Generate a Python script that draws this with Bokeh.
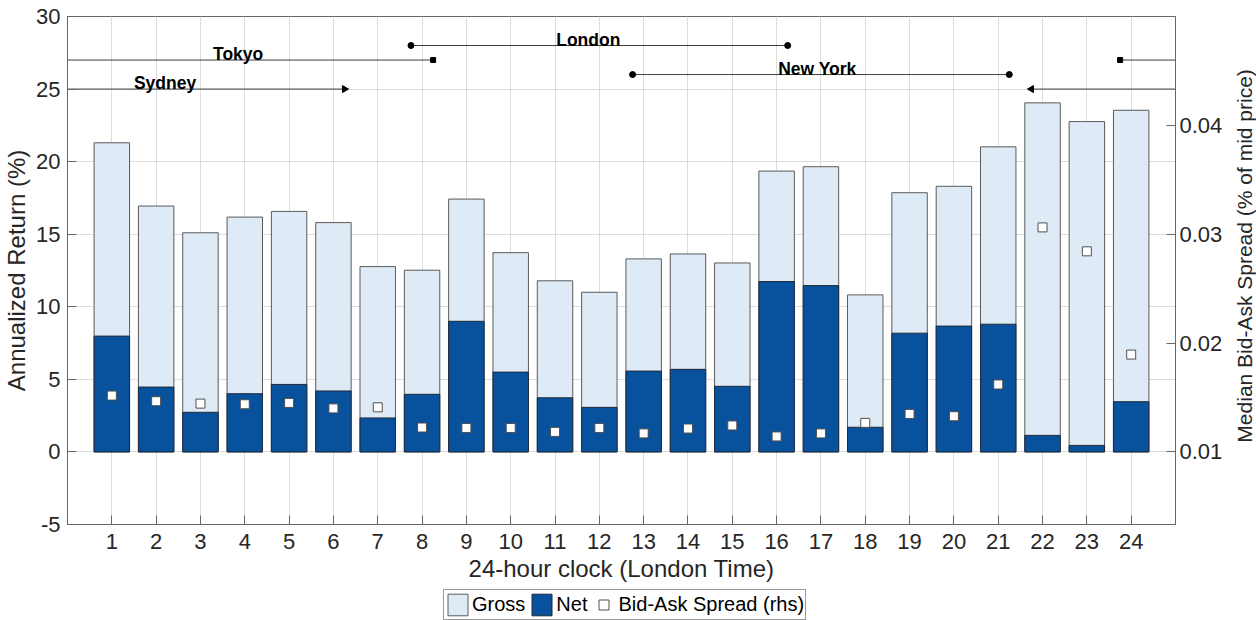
import numpy as np
from bokeh.plotting import figure
from bokeh.layouts import column, row
from bokeh.models import (Range1d, LinearAxis, FixedTicker, Legend, LegendItem,
                          ColumnDataSource)
from bokeh.core.properties import value
from bokeh.embed import file_html
from bokeh.resources import INLINE

# ---------------- data ----------------
hours = list(range(1, 25))
gross = [21.3, 16.94, 15.1, 16.18, 16.57, 15.8, 12.77, 12.52, 17.42, 13.73, 11.79, 11.0,
         13.3, 13.64, 13.02, 19.35, 19.65, 10.82, 17.86, 18.3, 21.02, 24.05, 22.76, 23.54]
net = [7.98, 4.47, 2.73, 4.01, 4.65, 4.2, 2.34, 3.97, 9.0, 5.5, 3.73, 3.07,
       5.57, 5.69, 4.52, 11.74, 11.46, 1.7, 8.18, 8.67, 8.8, 1.14, 0.45, 3.46]
spread = [0.01518, 0.01466, 0.01444, 0.01438, 0.0145, 0.0140, 0.0141, 0.01224, 0.0122, 0.0122,
          0.01184, 0.0122, 0.0117, 0.01215, 0.01243, 0.01142, 0.0117, 0.01267, 0.01349, 0.01328,
          0.0162, 0.03065, 0.02845, 0.01895]

session_names = ["Sydney", "Tokyo", "London", "New York"]
session_start = [21.75, 23.75, 7.75, 12.75]
session_end = [6.25, 8.25, 16.25, 21.25]
session_level = [25, 27, 28, 26]
session_label_x = [2.2, 3.85, 11.75, 16.92]
session_marker = ["triangle", "square", "circle", "circle"]

left_ticks = [-5, 0, 5, 10, 15, 20, 25, 30]
right_ticks = [0.01, 0.02, 0.03, 0.04]

x_title = "24-hour clock (London Time)"
y_title = "Annualized Return (%)"
y2_title = "Median Bid-Ask Spread (% of mid price)"

# ---------------- styling ----------------
FONT = "Liberation Sans"
TXT = "#262626"
AX = "#666666"
GRID = "#dcdcdc"
C_GROSS = "#deebf7"
C_NET = "#08519c"
E_GROSS = "#5a5a5a"
E_NET = "#1f2a3a"
E_SPR = "#505050"

X_MAX = 25
P_H = 588
P_W = 1225
B_TOP, B_BOTTOM = 16, 64

p = figure(width=P_W, height=P_H, x_range=Range1d(0, X_MAX), y_range=Range1d(-5, 30),
           output_backend="svg", toolbar_location=None,
           min_border_left=66, min_border_right=48, min_border_top=B_TOP, min_border_bottom=B_BOTTOM)
p.extra_y_ranges = {"spread": Range1d(0.00332, 0.05005)}
p.outline_line_color = AX
p.background_fill_color = "white"

p.xgrid.ticker = FixedTicker(ticks=hours)
p.ygrid.ticker = FixedTicker(ticks=left_ticks)
p.xgrid.grid_line_color = GRID
p.ygrid.grid_line_color = GRID

xax = p.xaxis[0]
lax = p.yaxis[0]
rax = LinearAxis(y_range_name="spread", ticker=FixedTicker(ticks=right_ticks))
p.add_layout(rax, "right")

for ax in [xax, lax, rax]:
    ax.axis_line_color = AX
    ax.major_tick_line_color = AX
    ax.major_tick_in = 9
    ax.major_tick_out = 0
    ax.minor_tick_line_color = None
    ax.major_label_text_font = FONT
    ax.major_label_text_font_size = "22px"
    ax.major_label_text_color = TXT
    ax.axis_label_text_font = FONT
    ax.axis_label_text_font_size = "24px"
    ax.axis_label_text_font_style = "normal"
    ax.axis_label_text_color = TXT

xax.ticker = FixedTicker(ticks=hours)
lax.ticker = FixedTicker(ticks=left_ticks)
lax.major_label_overrides = {-5: "-5"}
xax.axis_label = x_title
lax.axis_label = y_title
xax.major_label_standoff = 9
xax.axis_label_standoff = 3
lax.major_label_standoff = 7
lax.axis_label_standoff = 3
rax.major_label_standoff = 4

# ---------------- bars & markers ----------------
src = ColumnDataSource(dict(x=hours, gross=gross, net=net, spread=spread))
p.vbar(x="x", top="gross", bottom=0, width=0.8, source=src,
       fill_color=C_GROSS, line_color=E_GROSS, line_width=1)
p.vbar(x="x", top="net", bottom=0, width=0.8, source=src,
       fill_color=C_NET, line_color=E_NET, line_width=1)
p.scatter(x="x", y="spread", source=src, y_range_name="spread", marker="square",
          size=9, fill_color="white", line_color=E_SPR, line_width=1)

# ---------------- trading sessions ----------------
seg_x0, seg_x1, seg_y = [], [], []
mk_x, mk_y, mk_type, mk_angle, mk_size = [], [], [], [], []
for s, e, lv, mk in zip(session_start, session_end, session_level, session_marker):
    if s > e:
        seg_x0 += [s, 0]
        seg_x1 += [X_MAX, e]
        seg_y += [lv, lv]
    else:
        seg_x0.append(s)
        seg_x1.append(e)
        seg_y.append(lv)
    mk_x += [s, e]
    mk_y += [lv, lv]
    mk_type += [mk, mk]
    mk_angle += [np.pi / 2, -np.pi / 2] if mk == "triangle" else [0, 0]
    mk_size += {"triangle": [7, 7], "square": [5, 5], "circle": [6, 6]}[mk]

p.segment(x0=seg_x0, y0=seg_y, x1=seg_x1, y1=seg_y, line_color="#3c3c3c", line_width=1)
p.scatter(x=mk_x, y=mk_y, marker=mk_type, angle=mk_angle, size=mk_size,
          fill_color="black", line_color="black")
p.text(x=session_label_x, y=session_level, text=session_names,
       text_font=value(FONT), text_font_style="bold", text_font_size="17.5px",
       text_color="black", text_align="center", text_baseline="alphabetic", y_offset=-6)

# ---------------- right-hand axis title (reads bottom to top) ----------------
rf = figure(width=1256 - P_W, height=P_H, x_range=Range1d(0, 1), y_range=Range1d(0, 1),
            output_backend="svg", toolbar_location=None,
            min_border_left=1256 - P_W - 1, min_border_right=0,
            min_border_top=B_TOP, min_border_bottom=B_BOTTOM)
rf.outline_line_color = None
rf.grid.visible = False
rf.xaxis.visible = False
ya = rf.yaxis[0]
ya.ticker = FixedTicker(ticks=[])
ya.axis_line_color = None
ya.major_tick_line_color = None
ya.minor_tick_line_color = None
ya.major_tick_out = 0
ya.major_label_text_font_size = "0px"
ya.major_label_standoff = 0
ya.axis_label = "\u00a0" * 5 + y2_title
ya.axis_label_text_font = FONT
ya.axis_label_text_font_size = "21px"
ya.axis_label_text_font_style = "normal"
ya.axis_label_text_color = TXT
ya.axis_label_standoff = 0

# ---------------- legend strip ----------------
lf = figure(width=1256, height=32, x_range=Range1d(0, 1), y_range=Range1d(0, 1),
            output_backend="svg", toolbar_location=None, min_border=0)
lf.axis.visible = False
lf.grid.visible = False
lf.outline_line_color = None
g_gross = lf.vbar(x=[5], top=[1], width=0.1, fill_color=C_GROSS, line_color=E_GROSS)
g_net = lf.vbar(x=[5], top=[1], width=0.1, fill_color=C_NET, line_color=E_NET)
g_spr = lf.scatter(x=[5], y=[0.5], marker="square", size=8, fill_color="white", line_color=E_SPR)
legend = Legend(items=[LegendItem(label="Gross", renderers=[g_gross]),
                       LegendItem(label="Net", renderers=[g_net]),
                       LegendItem(label="Bid-Ask Spread (rhs)", renderers=[g_spr])],
                orientation="horizontal", location=(443, 0),
                label_text_font=FONT, label_text_font_size="20px", label_text_color="black",
                glyph_width=25, glyph_height=27, label_standoff=2, spacing=4,
                padding=1, margin=0, border_line_color="#333333",
                background_fill_color="white", background_fill_alpha=1)
lf.add_layout(legend, "center")

open("out.html", "w").write(file_html(column(row(p, rf), lf), INLINE))
